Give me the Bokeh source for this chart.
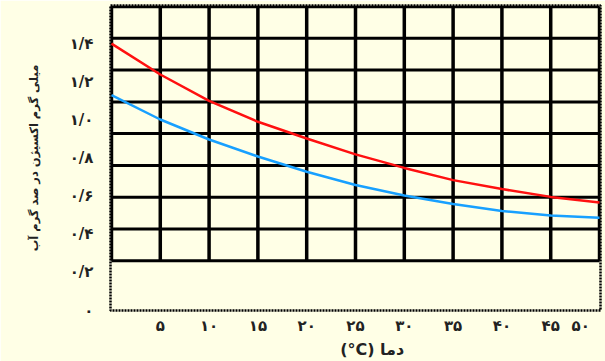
from bokeh.plotting import figure
from bokeh.models import FixedTicker, Range1d
from bokeh.embed import file_html
from bokeh.resources import INLINE

# ---- data ----
temps = [0, 5, 10, 15, 20, 25, 30, 35, 40, 45, 50]
red_vals = [1.40, 1.238, 1.10, 0.99, 0.902, 0.819, 0.748, 0.684, 0.637, 0.596, 0.567]
blue_vals = [1.13, 1.002, 0.897, 0.808, 0.728, 0.658, 0.603, 0.559, 0.522, 0.498, 0.486]

x_ticks = [5, 10, 15, 20, 25, 30, 35, 40, 45, 50]
x_tick_labels = ["۵", "۱۰", "۱۵", "۲۰", "۲۵", "۳۰", "۳۵", "۴۰", "۴۵",
                 "۵۰\u00a0\u00a0\u00a0"]
y_ticks = [0, 0.2, 0.4, 0.6, 0.8, 1.0, 1.2, 1.4]
y_tick_labels = ["۰", "۰/۲", "۰/۴", "۰/۶", "۰/۸", "۱/۰", "۱/۲", "۱/۴"]

grid_x = [0, 5, 10, 15, 20, 25, 30, 35, 40, 45, 50]
grid_y = [0.261, 0.428, 0.594, 0.761, 0.928, 1.094, 1.261, 1.428, 1.594]

x_label = "\u00a0\u00a0\u00a0\u00a0\u00a0\u00a0(°C) دما"
y_label = "میلی گرم اکسیژن در صد گرم آب"

BG = "#FFFFE6"
FONT = "DejaVu Sans"

p = figure(width=605, height=361, output_backend="svg", toolbar_location=None,
           x_range=Range1d(-0.1, 50.1), y_range=Range1d(0, 1.600),
           min_border_left=110, min_border_right=5, min_border_top=5,
           min_border_bottom=50)
p.background_fill_color = BG
p.border_fill_color = BG
p.outline_line_color = "black"
p.outline_line_width = 2.5
p.outline_line_dash = "2 1"
p.xgrid.visible = False
p.ygrid.visible = False

# grid drawn as segments over the boxed region
nx = len(grid_x)
ny = len(grid_y)
p.segment(x0=grid_x, y0=[grid_y[0]] * nx, x1=grid_x, y1=[grid_y[-1]] * nx,
          line_color="black", line_width=3.5)
p.segment(x0=[grid_x[0]] * ny, y0=grid_y, x1=[grid_x[-1]] * ny, y1=grid_y,
          line_color="black", line_width=3)

p.line(temps, red_vals, line_color="#FF1010", line_width=2.5)
p.line(temps, blue_vals, line_color="#18A0FF", line_width=2.5)

for ax in (p.xaxis[0], p.yaxis[0]):
    ax.axis_line_color = None
    ax.major_tick_line_color = None
    ax.minor_tick_line_color = None
    ax.major_tick_out = 0
    ax.major_tick_in = 0
    ax.major_label_text_font = FONT
    ax.major_label_text_font_style = "bold"
    ax.major_label_text_font_size = "15px"
    ax.major_label_text_color = "#222222"
    ax.axis_label_text_font = FONT
    ax.axis_label_text_font_style = "bold"
    ax.axis_label_text_color = "#222222"

p.xaxis.ticker = FixedTicker(ticks=x_ticks)
p.xaxis.major_label_overrides = dict(zip(x_ticks, x_tick_labels))
p.xaxis.major_label_standoff = 6
p.xaxis.axis_label = x_label
p.xaxis.axis_label_text_font_size = "16px"
p.xaxis.axis_label_standoff = 2

p.yaxis.ticker = FixedTicker(ticks=y_ticks)
p.yaxis.major_label_overrides = dict(zip(y_ticks, y_tick_labels))
p.yaxis.major_label_standoff = 17
p.yaxis.axis_label = y_label
p.yaxis.axis_label_text_font_size = "11.5px"
p.yaxis.axis_label_standoff = 26

open("out.html", "w").write(file_html(p, INLINE))
